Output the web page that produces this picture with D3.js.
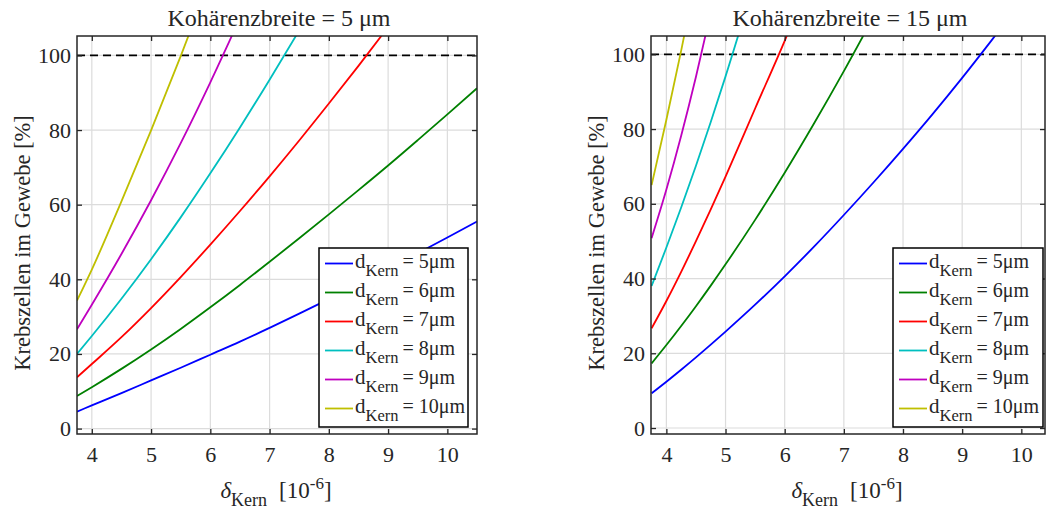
<!DOCTYPE html>
<html><head><meta charset="utf-8">
<script src="https://cdn.jsdelivr.net/npm/d3@7"></script>
<style>
body{margin:0;background:#fff}
svg{display:block}
text{font-family:"Liberation Serif",serif;fill:#262626}
</style>
</head><body>
<svg id="c" width="1046" height="509"></svg>
<script>
// ---------- data ----------
const titles = ["Kohärenzbreite = 5 μm", "Kohärenzbreite = 15 μm"];
const kernLabels = ["5μm", "6μm", "7μm", "8μm", "9μm", "10μm"];
const xTicks = [4, 5, 6, 7, 8, 9, 10];
const yTicks = [0, 20, 40, 60, 80, 100];
const threshold = 100;

// left panel (Kohärenzbreite = 5 µm)
const L_x   = [3.75, 4, 4.5, 5, 5.5, 6, 6.5, 7, 7.5, 8, 8.5, 9, 9.5, 10, 10.5];
const L_d5  = [4.55, 6.2, 9.5, 12.9, 16.3, 19.8, 23.3, 27, 30.8, 34.7, 38.7, 42.8, 47, 51.2, 55.5];
const L_d6  = [8.75, 11.1, 16.0, 21.2, 26.7, 32.5, 38.5, 44.7, 51.0, 57.4, 63.9, 70.5, 77.3, 84.2, 91.2];
const L_d7  = [13.75, 17.3, 24.5, 32.3, 40.6, 49.3, 58.3, 67.6, 77.2, 87.1, 97.2, 107.6, null, null, null];
const L_d8  = [20, 24.8, 34.8, 45.4, 56.6, 68.4, 80.7, 93.5, 106.7, null, null, null, null, null, null];
const L_d9  = [26.6, 33.2, 46.8, 61.2, 76.5, 92.8, 110, null, null, null, null, null, null, null, null];
const L_d10 = [34.3, 42.6, 60.9, 79.9, 99.8, 120.6, null, null, null, null, null, null, null, null, null];

// right panel (Kohärenzbreite = 15 µm)
const R_x   = [3.75, 4, 4.25, 4.5, 4.75, 5, 5.5, 6, 6.5, 7, 7.5, 8, 8.5, 9, 9.5, 10, 10.5];
const R_d5  = [9.3, 12.4, 15.6, 18.9, 22.3, 25.8, 33.0, 40.6, 48.6, 57.0, 65.7, 74.7, 84.0, 93.7, 103.8, 114.2, null];
const R_d6  = [17.3, 22.2, 27.3, 32.6, 38.1, 43.8, 55.7, 68.3, 81.6, 95.5, 110.0, null, null, null, null, null, null];
const R_d7  = [26.7, 34.0, 41.8, 50.0, 58.5, 67.3, 85.5, 103.6, 123, null, null, null, null, null, null, null, null];
const R_d8  = [38, 48.3, 59.0, 70.2, 81.9, 94.1, 120, null, null, null, null, null, null, null, null, null, null];
const R_d9  = [50.8, 63.8, 78.2, 94.0, 111.2, null, null, null, null, null, null, null, null, null, null, null, null];
const R_d10 = [65, 82.5, 101, 120.5, null, null, null, null, null, null, null, null, null, null, null, null, null];

// ---------- styling / layout ----------
const colors = ["#0000ff", "#008000", "#ff0000", "#00bfbf", "#bf00bf", "#bfbf00"];
const panels = [
  {x: L_x, series: [L_d5, L_d6, L_d7, L_d8, L_d9, L_d10], title: titles[0],
   box: {l: 77, r: 477, t: 36, b: 434}, xDom: [3.75, 10.5], yDom: [-1.45, 105.2],
   legend: {x: 319, y: 248, w: 149, h: 179}},
  {x: R_x, series: [R_d5, R_d6, R_d7, R_d8, R_d9, R_d10], title: titles[1],
   box: {l: 651, r: 1045, t: 36, b: 434}, xDom: [3.74, 10.4], yDom: [-1.6, 104.9],
   legend: {x: 893, y: 248, w: 150, h: 179}}
];

const svg = d3.select("#c");
const axisColor = "#262626";

panels.forEach((p, pi) => {
  const B = p.box;
  const x = d3.scaleLinear().domain(p.xDom).range([B.l, B.r]);
  const y = d3.scaleLinear().domain(p.yDom).range([B.b, B.t]);
  const g = svg.append("g");

  g.append("rect").attr("x", B.l).attr("y", B.t).attr("width", B.r - B.l).attr("height", B.b - B.t).attr("fill", "#fff");

  // grid
  g.append("g").selectAll("line").data(xTicks).join("line")
    .attr("x1", d => x(d)).attr("x2", d => x(d)).attr("y1", B.t).attr("y2", B.b)
    .attr("stroke", "#dcdcdc").attr("stroke-width", 1.2);
  g.append("g").selectAll("line").data(yTicks).join("line")
    .attr("x1", B.l).attr("x2", B.r).attr("y1", d => y(d)).attr("y2", d => y(d))
    .attr("stroke", "#dcdcdc").attr("stroke-width", 1.2);

  const clipId = "clip" + pi;
  svg.append("clipPath").attr("id", clipId).append("rect")
    .attr("x", B.l).attr("y", B.t).attr("width", B.r - B.l).attr("height", B.b - B.t);
  const plot = g.append("g").attr("clip-path", `url(#${clipId})`);

  plot.append("line").attr("x1", B.l).attr("x2", B.r)
    .attr("y1", y(threshold)).attr("y2", y(threshold))
    .attr("stroke", "#000").attr("stroke-width", 1.7).attr("stroke-dasharray", "8,5");

  const line = d3.line()
    .defined(d => d[1] != null)
    .x(d => x(d[0])).y(d => y(d[1]))
    .curve(d3.curveMonotoneX);

  p.series.forEach((s, i) => {
    const pts = p.x.map((xv, j) => [xv, s[j]]);
    plot.append("path").attr("d", line(pts))
      .attr("fill", "none").attr("stroke", colors[i]).attr("stroke-width", 1.8);
  });

  const fmt = d3.format("d");
  const ax = (gen, tx, ty) => {
    const a = g.append("g").attr("transform", `translate(${tx},${ty})`).call(gen);
    a.select(".domain").remove();
    a.selectAll(".tick line").attr("stroke", axisColor).attr("stroke-width", 1.3);
    a.selectAll("text").attr("font-family", "Liberation Serif").attr("font-size", 22).attr("fill", axisColor);
    return a;
  };
  ax(d3.axisBottom(x).tickValues(xTicks).tickSize(-5).tickPadding(12).tickFormat(fmt), 0, B.b);
  ax(d3.axisTop(x).tickValues(xTicks).tickSize(-5).tickFormat(""), 0, B.t);
  ax(d3.axisLeft(y).tickValues(yTicks).tickSize(-5).tickPadding(6).tickFormat(fmt), B.l, 0);
  ax(d3.axisRight(y).tickValues(yTicks).tickSize(-5).tickFormat(""), B.r, 0);

  g.append("rect").attr("x", B.l).attr("y", B.t).attr("width", B.r - B.l).attr("height", B.b - B.t)
    .attr("fill", "none").attr("stroke", axisColor).attr("stroke-width", 1.5);

  // title
  g.append("text").attr("x", (B.l + B.r) / 2 + 2).attr("y", 26)
    .attr("text-anchor", "middle").attr("font-size", 24).text(p.title);

  // y label
  g.append("text")
    .attr("transform", `translate(${B.l - 47},${(B.t + B.b) / 2 + 8}) rotate(-90)`)
    .attr("text-anchor", "middle").attr("font-size", 22.5)
    .text("Krebszellen im Gewebe [%]");

  // x label
  const xl = g.append("text").attr("x", (B.l + B.r) / 2 - 1).attr("y", 498)
    .attr("text-anchor", "middle").attr("font-size", 23);
  xl.append("tspan").attr("font-style", "italic").text("δ");
  xl.append("tspan").attr("font-size", 18).attr("dy", 8).text("Kern");
  xl.append("tspan").attr("dy", -8).attr("dx", 12).text("[10");
  xl.append("tspan").attr("font-size", 17).attr("dy", -9).text("-6");
  xl.append("tspan").attr("dy", 9).text("]");

  // legend
  const L = p.legend;
  const lg = g.append("g");
  lg.append("rect").attr("x", L.x).attr("y", L.y).attr("width", L.w).attr("height", L.h)
    .attr("fill", "#fff").attr("stroke", "#000").attr("stroke-width", 1.5);
  kernLabels.forEach((lab, i) => {
    const cy = L.y + 15.5 + i * 29;
    lg.append("line").attr("x1", L.x + 6).attr("x2", L.x + 34)
      .attr("y1", cy).attr("y2", cy).attr("stroke", colors[i]).attr("stroke-width", 1.8);
    const t = lg.append("text").attr("x", L.x + 36).attr("y", cy + 4).attr("font-size", 21);
    t.append("tspan").text("d");
    t.append("tspan").attr("font-size", 16.5).attr("dy", 8).text("Kern");
    t.append("tspan").attr("dy", -8).attr("dx", 4).attr("font-size", 20).text("= " + lab);
  });
});
</script>
</body></html>
